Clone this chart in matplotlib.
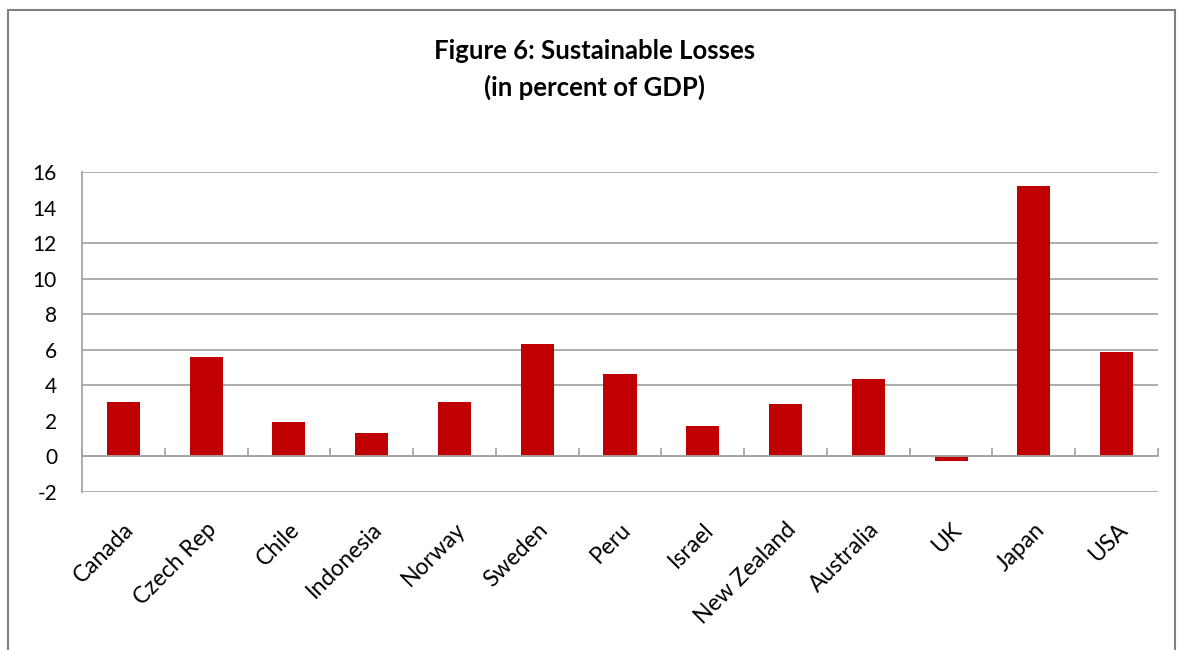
import matplotlib
matplotlib.use("Agg")
import matplotlib.pyplot as plt
import numpy as np
from matplotlib.patches import Rectangle

countries = ["Canada", "Czech Rep", "Chile", "Indonesia", "Norway", "Sweden", "Peru",
             "Israel", "New Zealand", "Australia", "UK", "Japan", "USA"]
losses = [3.05, 5.6, 1.95, 1.3, 3.05, 6.3, 4.62, 1.72, 2.97, 4.34, -0.27, 15.2, 5.86]
yticks = [-2, 0, 2, 4, 6, 8, 10, 12, 14, 16]
title_lines = ["Figure 6: Sustainable Losses", "(in percent of GDP)"]

plt.rcParams['font.family'] = ['Lato', 'DejaVu Sans']

fig = plt.figure(figsize=(11.77, 6.5), dpi=100)
W, H = 1177, 650
ax = fig.add_axes([82 / W, (H - 492) / H, (1158 - 82) / W, (492 - 172) / H])

x = np.arange(len(countries))
ax.bar(x, losses, width=0.4, color="#C00000", zorder=3)

ax.set_xlim(-0.5, len(countries) - 0.5)
ax.set_ylim(-2, 16)
ax.set_yticks(yticks)
ax.set_yticklabels([str(v) for v in yticks], fontsize=15)
ax.tick_params(axis='y', length=0, pad=18)

grid_color = "#A6A6A6"
# the reference image shows no grid lines at 2 and 14
for v in yticks:
    if v not in (2, 14):
        ax.axhline(v, color=grid_color, linewidth=1.3, zorder=1)

for s in ("top", "right"):
    ax.spines[s].set_visible(False)
ax.spines['left'].set_color(grid_color)
ax.spines['left'].set_linewidth(1.3)
ax.spines['bottom'].set_position(('data', 0))
ax.spines['bottom'].set_color(grid_color)
ax.spines['bottom'].set_linewidth(1.3)
ax.spines['bottom'].set_zorder(4)

ax.set_xticks(x)
ax.set_xticklabels(countries, rotation=45, ha='right', va='top',
                   rotation_mode='anchor', fontsize=16.5)
ax.tick_params(axis='x', which='major', length=0, pad=45)
ax.set_xticks(np.arange(len(countries) + 1) - 0.5, minor=True)
ax.tick_params(axis='x', which='minor', direction='in', length=6,
               color=grid_color, width=1.3)

fig.text(595 / W, 1 - 51 / H, title_lines[0], ha='center', va='center',
         fontsize=18.5, fontweight='bold')
fig.text(595 / W, 1 - 87 / H, title_lines[1], ha='center', va='center',
         fontsize=18.5, fontweight='bold')

frame = Rectangle((8 / W, -0.05), (1175 - 8) / W, 1.05 - 10 / H,
                  transform=fig.transFigure, fill=False,
                  edgecolor="#808080", linewidth=1.5)
fig.add_artist(frame)

fig.savefig("out.png", dpi=100)
